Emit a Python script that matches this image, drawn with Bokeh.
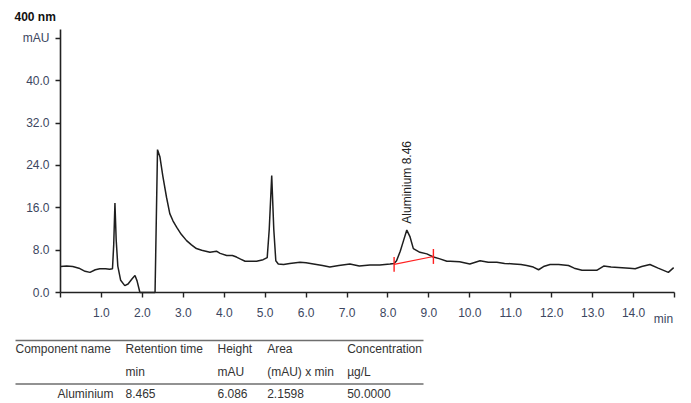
from bokeh.plotting import figure
from bokeh.models import Range1d, FixedTicker
from bokeh.embed import file_html
from bokeh.resources import INLINE
from bokeh.core.properties import value
import math

# ---- chromatogram data ----
time_min = [0.00, 0.15, 0.30, 0.45, 0.60, 0.72, 0.85, 0.96, 1.10, 1.20, 1.27, 1.30, 1.33, 1.36, 1.40,
            1.47, 1.57, 1.65, 1.75, 1.82, 1.87, 1.94, 2.00, 2.31, 2.37, 2.43, 2.50, 2.59, 2.67, 2.75,
            2.84, 2.95, 3.08, 3.20, 3.32, 3.45, 3.65, 3.81, 3.90, 4.06, 4.20, 4.30, 4.40, 4.51, 4.65,
            4.79, 4.95, 5.05, 5.10, 5.16, 5.21, 5.26, 5.32, 5.45, 5.60, 5.85, 6.00, 6.18, 6.40, 6.58,
            6.80, 7.07, 7.30, 7.56, 7.80, 8.05, 8.15, 8.21, 8.30, 8.38, 8.46, 8.54, 8.62, 8.78, 8.95,
            9.11, 9.25, 9.44, 9.52, 9.75, 10.00, 10.25, 10.45, 10.66, 10.85, 11.07, 11.25, 11.39, 11.55,
            11.68, 11.80, 11.96, 12.17, 12.41, 12.55, 12.74, 12.90, 13.10, 13.27, 13.45, 13.72, 13.90,
            14.04, 14.20, 14.40, 14.60, 14.85, 14.98]
signal_mau = [4.9, 5.0, 4.9, 4.6, 4.0, 3.8, 4.3, 4.5, 4.5, 4.4, 4.5, 9.0, 16.9, 10.0, 5.0,
              2.3, 1.3, 1.6, 2.6, 3.2, 2.2, 0.0, 0.0, 0.0, 27.0, 25.6, 22.0, 18.0, 14.9, 13.5,
              12.3, 11.0, 9.8, 9.0, 8.3, 8.0, 7.6, 7.8, 7.4, 7.0, 7.0, 6.7, 6.3, 5.9, 5.9,
              5.9, 6.2, 6.6, 12.0, 22.1, 12.0, 6.0, 5.4, 5.3, 5.5, 5.7, 5.6, 5.4, 5.1, 4.8,
              5.1, 5.4, 5.0, 5.2, 5.2, 5.4, 5.5, 6.0, 7.8, 9.8, 11.8, 10.5, 8.3, 7.6, 7.3,
              6.7, 6.4, 5.9, 5.9, 5.8, 5.4, 6.0, 5.7, 5.7, 5.5, 5.4, 5.3, 5.1, 4.8,
              4.3, 4.9, 5.3, 5.3, 5.1, 4.6, 4.2, 4.2, 4.2, 5.0, 4.8, 4.7, 4.6,
              4.5, 4.9, 5.3, 4.6, 3.8, 4.7]

x_ticks = list(range(0, 16))
y_ticks = [0, 8, 16, 24, 32, 40, 48]
x_max = 15
y_max = 49.7
x_unit = "min"
y_unit = "mAU"
wavelength = "400 nm"

# peak annotation
peak_names = ["Aluminium"]
peak_rt = [8.46]
peak_label_y = [13.0]
base_t = [8.15, 9.11]
base_v = [5.3, 6.8]
base_tick_half = 1.4

# results table
table_headers = ["Component name", "Retention time", "Height", "Area", "Concentration"]
table_units = ["", "min", "mAU", "(mAU) x min", "\u00b5g/L"]
table_row = ["Aluminium", "8.465", "6.086", "2.1598", "50.0000"]

FONT = "Liberation Sans"
LABEL_COLOR = "#3c4660"
TEXT_COLOR = "#333333"

# ---- page geometry (pixels) ----
W, H = 683, 401
plot_left, plot_right = 60, 674      # x = 0 .. x_max
plot_bottom, plot_top = 292, 29      # y = 0 .. y_max
ppx = (plot_right - plot_left) / x_max
ppy = (plot_bottom - plot_top) / y_max

p = figure(width=W, height=H, output_backend="svg", toolbar_location=None,
           x_range=Range1d(-plot_left / ppx, (W - plot_left) / ppx),
           y_range=Range1d((plot_bottom - H) / ppy, plot_bottom / ppy),
           min_border_left=0, min_border_right=0, min_border_top=0, min_border_bottom=0)
p.extra_x_ranges = {"px": Range1d(0, W)}
p.extra_y_ranges = {"py": Range1d(H, 0)}
p.outline_line_color = None
p.grid.visible = False
p.background_fill_color = "white"
p.border_fill_color = "white"

# axes drawn at fixed positions inside the frame
p.xaxis.fixed_location = 0
p.yaxis.fixed_location = 0
p.xaxis.bounds = (0, x_max)
p.yaxis.bounds = (0, y_max)
p.xaxis.ticker = FixedTicker(ticks=x_ticks)
xo = {t: f"{t:.1f}" for t in x_ticks}
xo[0] = ""
xo[x_max] = ""
p.xaxis.major_label_overrides = xo
p.yaxis.ticker = FixedTicker(ticks=y_ticks)
yo = {t: f"{t:.1f}" for t in y_ticks}
yo[48] = y_unit
p.yaxis.major_label_overrides = yo
for ax in (p.xaxis[0], p.yaxis[0]):
    ax.axis_line_color = "#222222"
    ax.axis_line_width = 1.6
    ax.major_tick_line_color = "#222222"
    ax.major_tick_line_width = 1.4
    ax.major_tick_in = 0
    ax.major_tick_out = 5
    ax.minor_tick_line_color = None
    ax.major_label_text_font = FONT
    ax.major_label_text_font_size = "12px"
    ax.major_label_text_color = LABEL_COLOR
p.xaxis.major_label_standoff = 10
p.yaxis.major_label_standoff = 6

# trace
p.line(time_min, signal_mau, line_color="#1e1e1e", line_width=1.5)

# integration baseline
p.line(base_t, base_v, line_color="#ff2020", line_width=1.2)
p.segment(x0=base_t, y0=[v - base_tick_half for v in base_v],
          x1=base_t, y1=[v + base_tick_half for v in base_v],
          line_color="#ff2020", line_width=1.4)

# peak label
p.text(x=peak_rt, y=peak_label_y, text=[f"{n} {t:.2f}" for n, t in zip(peak_names, peak_rt)],
       angle=math.pi / 2, text_align="left", text_baseline="middle",
       text_font=value(FONT), text_font_size="12px", text_color="#222222")

# wavelength and time unit labels (page-pixel positions)
p.text(x=[14], y=[16], text=[wavelength], x_range_name="px", y_range_name="py",
       text_font=value(FONT), text_font_size="12px", text_font_style="bold",
       text_color="#111111", text_align="left", text_baseline="middle")
p.text(x=[663], y=[318], text=[x_unit], x_range_name="px", y_range_name="py",
       text_font=value(FONT), text_font_size="12px", text_color=LABEL_COLOR,
       text_align="center", text_baseline="middle")

# ---- results table (page-pixel positions) ----
col_x = [15, 125, 217, 266.7, 346.7]
name_right = 113
rule_x = [15, 423]
row_y = [348, 371, 393]
rule_y = [340, 383.5]

p.segment(x0=[rule_x[0]] * 2, x1=[rule_x[1]] * 2, y0=rule_y, y1=rule_y,
          x_range_name="px", y_range_name="py", line_color="#6e6e6e", line_width=1.6)
tkw = dict(x_range_name="px", y_range_name="py", text_font=value(FONT), text_font_size="12px",
           text_color=TEXT_COLOR, text_baseline="middle")
p.text(x=col_x, y=[row_y[0]] * 5, text=table_headers, text_align="left", **tkw)
p.text(x=col_x, y=[row_y[1]] * 5, text=table_units, text_align="left", **tkw)
p.text(x=[name_right], y=[row_y[2]], text=table_row[:1], text_align="right", **tkw)
p.text(x=col_x[1:], y=[row_y[2]] * 4, text=table_row[1:], text_align="left", **tkw)

open("out.html", "w").write(file_html(p, INLINE))
